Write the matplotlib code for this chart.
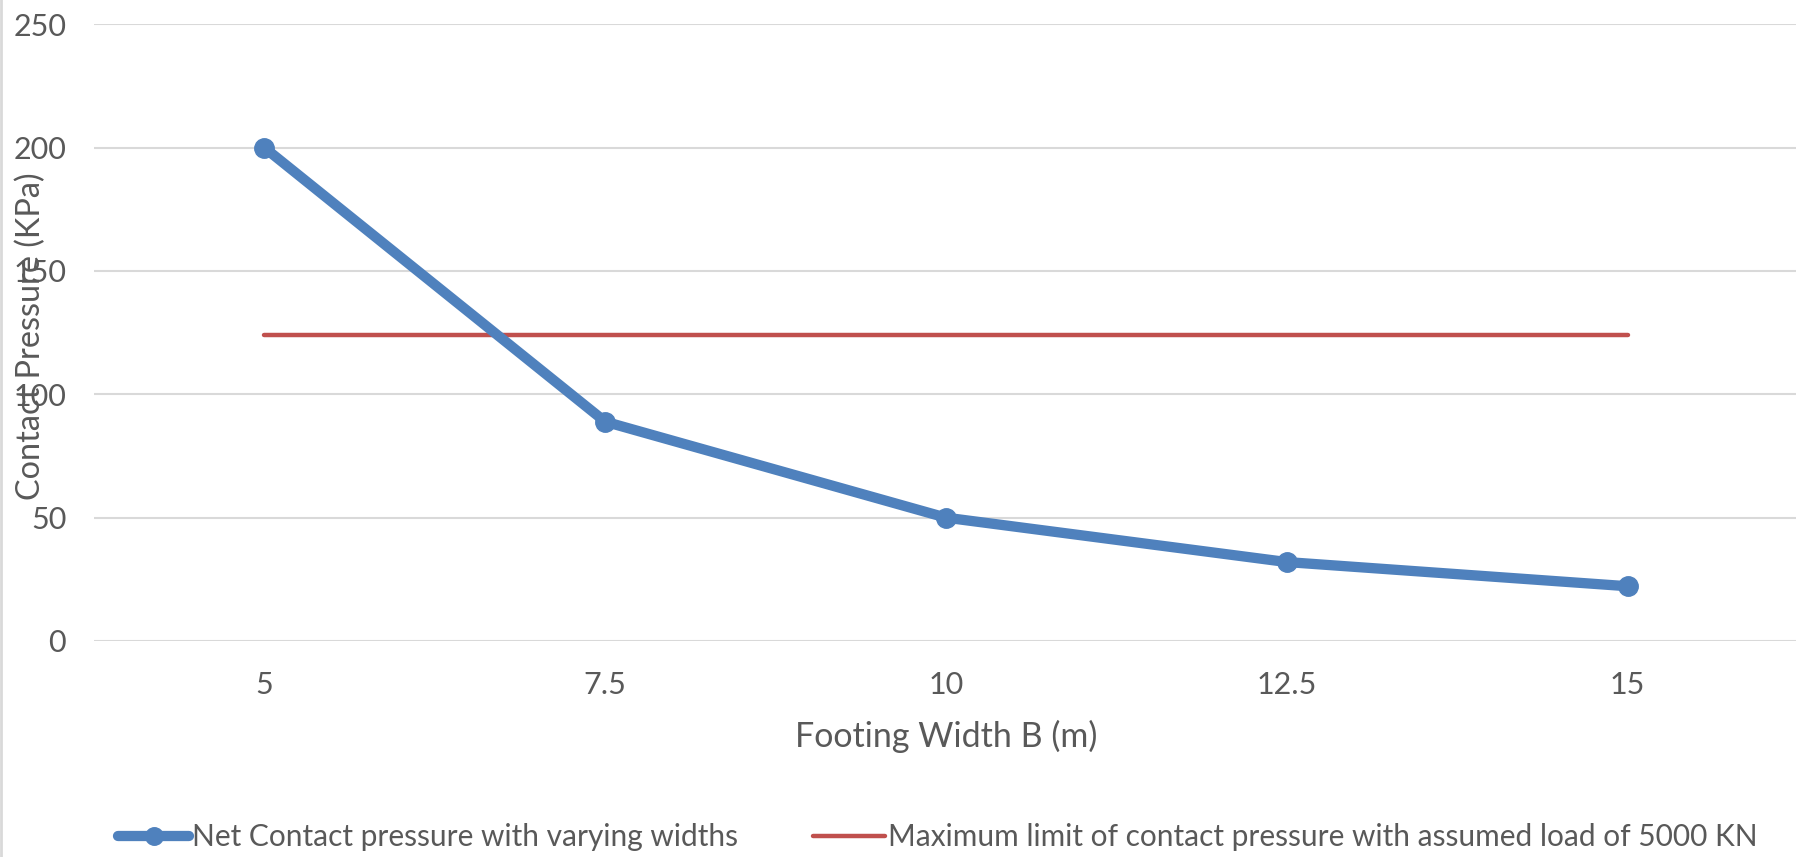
import matplotlib
matplotlib.use("Agg")
import matplotlib.pyplot as plt
from matplotlib.lines import Line2D

widths = [5, 7.5, 10, 12.5, 15]
net_pressure = [200, 88.9, 50, 32, 22.2]
max_limit = [124, 124, 124, 124, 124]
tick_labels = ["5", "7.5", "10", "12.5", "15"]

plt.rcParams['font.family'] = ['Lato', 'DejaVu Sans']
txt = "#595959"

fig = plt.figure(figsize=(17.96, 8.57), dpi=100)
ax = fig.add_axes([94/1796, (857-641)/857, (1798-94)/1796, (641-24.3)/857])

ax.plot(widths, net_pressure, color="#4F81BD", linewidth=7.4, marker="o",
        markersize=14, solid_capstyle="round", solid_joinstyle="round", zorder=3,
        label="Net Contact pressure with varying widths")
ax.plot(widths, max_limit, color="#C0504D", linewidth=3.2, solid_capstyle="round", zorder=2,
        label="Maximum limit of contact pressure with assumed load of 5000 KN")

ax.set_xlim(3.75, 16.25)
ax.set_ylim(0, 250)
ax.set_xticks(widths)
ax.set_xticklabels(tick_labels)
ax.set_yticks([0, 50, 100, 150, 200, 250])
ax.yaxis.grid(True, color="#D9D9D9", linewidth=1.5)
ax.set_axisbelow(True)
for s in ax.spines.values():
    s.set_visible(False)
ax.tick_params(axis="both", length=0, labelsize=22, colors=txt)
ax.tick_params(axis="x", pad=21.5)
ax.tick_params(axis="y", pad=20)

ax.set_xlabel("Footing Width B (m)", fontsize=24.5, color=txt, labelpad=15)
fig.text(31/1796, 0.608, "Contact Pressure (KPa)", rotation=90, fontsize=23.3,
         color=txt, ha="center", va="center")

# chart border on the left
fig.add_artist(Line2D([0.0008, 0.0008], [0, 1], color="#D9D9D9", linewidth=2, transform=fig.transFigure))

h, l = ax.get_legend_handles_labels()
fig.legend(h, l, loc="center", bbox_to_anchor=(0.522, 20/857), ncol=2, frameon=False,
           fontsize=21.5, labelcolor=txt, handlelength=2.4, handletextpad=0.1,
           columnspacing=2.5, markerscale=0.9)

fig.savefig("out.png", dpi=100)
